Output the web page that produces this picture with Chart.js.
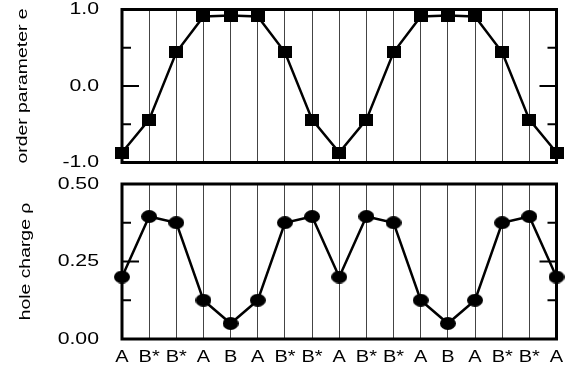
<!DOCTYPE html>
<html>
<head>
<meta charset="utf-8">
<script src="https://cdn.jsdelivr.net/npm/chart.js@4/dist/chart.umd.min.js"></script>
<style>
  html, body { margin: 0; padding: 0; background: #fff; }
  #wrap { position: relative; width: 573px; height: 366px; }
  canvas { position: absolute; left: 0; }
  #orderChart { top: 0; }
  #chargeChart { top: 172px; }
</style>
</head>
<body>
<div id="wrap">
  <canvas id="orderChart" width="573" height="172"></canvas>
  <canvas id="chargeChart" width="573" height="194"></canvas>
</div>
<script>
// sites along the chain
const sites = ["A", "B*", "B*", "A", "B", "A", "B*", "B*", "A", "B*", "B*", "A", "B", "A", "B*", "B*", "A"];

// order parameter e (top panel)
const orderParam = [-0.87, -0.44, 0.44, 0.91, 0.92, 0.91, 0.44, -0.44, -0.87, -0.44, 0.44, 0.91, 0.92, 0.91, 0.44, -0.44, -0.87];
const orderTicks = [-1, -0.5, 0, 0.5, 1];
const orderTickLabels = ["-1.0", "", "0.0", "", "1.0"];

// hole charge rho (bottom panel)
const holeCharge = [0.20, 0.395, 0.375, 0.125, 0.05, 0.125, 0.375, 0.395, 0.20, 0.395, 0.375, 0.125, 0.05, 0.125, 0.375, 0.395, 0.20];
const chargeTicks = [0, 0.125, 0.25, 0.375, 0.5];
const chargeTickLabels = ["0.00", "", "0.25", "", "0.50"];

const TEXT_WIDEN = 1.25;   // the original lettering is drawn wide

Chart.defaults.font.family = "'Liberation Sans', Arial, Helvetica, sans-serif";
Chart.defaults.color = "#000";

// stretch every text along its baseline
function widenText(ctx) {
    const fillText = ctx.fillText;
    ctx.fillText = function (text, x, y) {
        this.save();
        this.translate(x, y);
        this.scale(TEXT_WIDEN, 1);
        fillText.call(this, text, 0, 0);
        this.restore();
    };
}

function makeMarker(shape, w, h) {
    const c = document.createElement("canvas");
    c.width = w;
    c.height = h;
    const g = c.getContext("2d");
    g.fillStyle = "#000";
    if (shape === "square") {
        g.fillRect(0, 0, w, h);
    } else {
        g.beginPath();
        g.ellipse(w / 2, h / 2, w / 2, h / 2, 0, 0, Math.PI * 2);
        g.fill();
    }
    return c;
}

// thick frame plus inward ticks on both sides
const framePlugin = {
    id: "frame",
    beforeDatasetsDraw(chart) {
        const ctx = chart.ctx;
        const a = chart.chartArea;
        const y = chart.scales.y;
        ctx.save();
        ctx.strokeStyle = "#000";
        ctx.lineWidth = 2;
        y.ticks.forEach(function (t) {
            const len = t.label ? 17 : 9;
            const py = y.getPixelForValue(t.value);
            ctx.beginPath();
            ctx.moveTo(a.left, py);
            ctx.lineTo(a.left + len, py);
            ctx.moveTo(a.right, py);
            ctx.lineTo(a.right - len, py);
            ctx.stroke();
        });
        ctx.lineWidth = 3;
        ctx.strokeRect(a.left, a.top, a.right - a.left, a.bottom - a.top);
        ctx.restore();
    }
};

function makeChart(id, values, marker, yMin, yMax, tickValues, tickLabels, title, titlePad, showX, pad) {
    const ctx = document.getElementById(id).getContext("2d");
    widenText(ctx);
    return new Chart(ctx, {
        type: "line",
        data: {
            labels: sites,
            datasets: [{
                data: values,
                borderColor: "#000",
                borderWidth: 2.5,
                tension: 0,
                pointStyle: marker,
                pointRadius: 7,
                clip: false
            }]
        },
        options: {
            responsive: false,
            animation: false,
            devicePixelRatio: 1,
            layout: { padding: pad },
            plugins: { legend: { display: false }, tooltip: { enabled: false } },
            scales: {
                x: {
                    type: "category",
                    offset: false,
                    border: { display: false },
                    grid: { color: "#444", lineWidth: 1, drawTicks: false },
                    ticks: {
                        display: showX,
                        autoSkip: false,
                        maxRotation: 0,
                        padding: 9,
                        font: { size: 16 }
                    },
                    afterFit: function (s) {
                        s.height = showX ? 27 : 0;
                        s.paddingLeft = 0;
                        s.paddingRight = 0;
                    }
                },
                y: {
                    min: yMin,
                    max: yMax,
                    border: { display: false },
                    grid: { display: false },
                    afterBuildTicks: function (s) {
                        s.ticks = tickValues.map(function (v) { return { value: v }; });
                    },
                    ticks: {
                        padding: 15,
                        font: { size: 17 },
                        callback: function (v, i) { return tickLabels[i]; }
                    },
                    title: {
                        display: true,
                        text: title,
                        font: { size: 15.5 },
                        padding: { top: titlePad, bottom: 0 }
                    },
                    afterFit: function (s) {
                        s.width = 122;
                        s.paddingTop = 0;
                        s.paddingBottom = 0;
                    }
                }
            }
        },
        plugins: [framePlugin]
    });
}

makeChart("orderChart", orderParam, makeMarker("square", 14, 12), -1, 1,
    orderTicks, orderTickLabels, "order parameter e", 13.5, false,
    { top: 7, right: 16.5, bottom: 9, left: 0 });

makeChart("chargeChart", holeCharge, makeMarker("circle", 16, 13), 0, 0.5,
    chargeTicks, chargeTickLabels, "hole charge ρ", 16, true,
    { top: 12, right: 16.5, bottom: 0, left: 0 });
</script>
</body>
</html>
